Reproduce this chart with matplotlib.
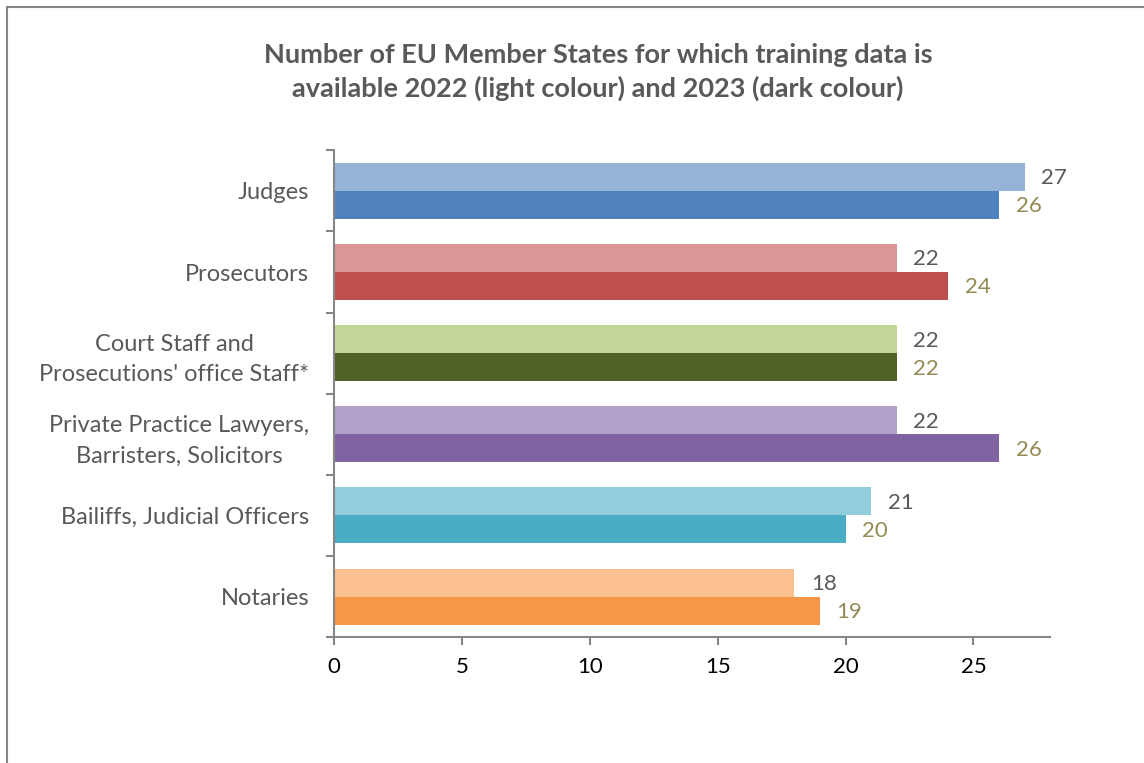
import matplotlib.pyplot as plt
import numpy as np
from matplotlib.patches import Rectangle

plt.rcParams['font.family'] = ['Lato', 'DejaVu Sans']

categories = ['Judges', 'Prosecutors', 'Court Staff and\nProsecutions\' office Staff*',
              'Private Practice Lawyers,\nBarristers, Solicitors',
              'Bailiffs, Judicial Officers', 'Notaries']
values_2022 = [27, 22, 22, 22, 21, 18]
values_2023 = [26, 24, 22, 26, 20, 19]
light_colors = ['#95B3D7', '#DA9694', '#C4D79B', '#B1A0C7', '#92CDDC', '#FAC090']
dark_colors = ['#4F81BD', '#C0504D', '#4F6228', '#8064A2', '#4BACC6', '#F79646']

fig = plt.figure(figsize=(11.44, 7.63), dpi=100)
ax = fig.add_axes([0.292, 0.165, 0.626, 0.638])

# outer chart border
fig.patches.append(Rectangle((7 / 1144, -0.05), 1.1, 1 - 7 / 763 + 0.05, transform=fig.transFigure,
                             fill=False, edgecolor='#868686', linewidth=1.5))

y = np.arange(len(categories))
h = 0.345
ax.barh(y - h / 2, values_2022, height=h, color=light_colors)
ax.barh(y + h / 2, values_2023, height=h, color=dark_colors)

for i in range(len(categories)):
    ax.annotate(str(values_2022[i]), (values_2022[i], y[i] - h / 2), xytext=(12, -1),
                textcoords='offset points', va='center', ha='left', fontsize=16, color='#595959')
    ax.annotate(str(values_2023[i]), (values_2023[i], y[i] + h / 2), xytext=(12, -1),
                textcoords='offset points', va='center', ha='left', fontsize=16, color='#948A54')

ax.set_ylim(len(categories) - 0.5, -0.5)
ax.set_xlim(0, 28)
ax.set_xticks([0, 5, 10, 15, 20, 25])
ax.set_yticks(y)
ax.set_yticklabels(categories, fontsize=17, color='#595959', ma='center', linespacing=1.55)
ax.set_yticks(np.arange(-0.5, len(categories)), minor=True)
ax.tick_params(axis='y', which='major', length=0, pad=18)
ax.tick_params(axis='y', which='minor', length=6, width=1.5, color='#868686')
ax.tick_params(axis='x', length=6, width=1.5, color='#868686', labelsize=16, pad=8)

for s in ['top', 'right']:
    ax.spines[s].set_visible(False)
for s in ['left', 'bottom']:
    ax.spines[s].set_color('#868686')
    ax.spines[s].set_linewidth(1.5)

fig.text(598 / 1144, 1 - 72 / 763,
         'Number of EU Member States for which training data is\navailable 2022 (light colour) and 2023 (dark colour)',
         ha='center', va='center', fontsize=19.5, fontweight='bold', color='#595959', linespacing=1.4)

fig.savefig('out.png', dpi=100)
